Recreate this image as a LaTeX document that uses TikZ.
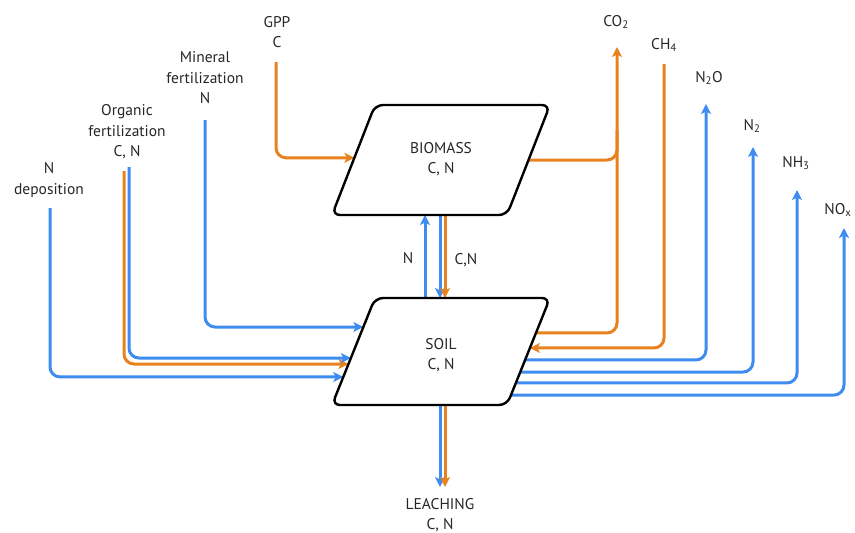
\documentclass[tikz,border=0pt]{standalone}
\usepackage{fontspec}
\setmainfont{PT Sans}
\usetikzlibrary{arrows.meta,calc}
\definecolor{org}{RGB}{232,130,30}
\definecolor{blu}{RGB}{62,140,240}
\begin{document}
\begin{tikzpicture}[x=1pt,y=-1pt,
  flow/.style={line width=3pt, rounded corners=10pt},
  oflow/.style={flow, draw=org},
  bflow/.style={flow, draw=blu},
  tip/.style={-{Stealth[length=10pt,width=10pt,inset=2.5pt]}},
  lbl/.style={font=\fontsize{15.5}{20.5}\selectfont, align=center, text=black!85, inner sep=0pt},
  pool/.style={line width=2.4pt, rounded corners=8pt, draw=black}]
\useasboundingbox (0,0) rectangle (855,533);

% pool corners
\coordinate (btl) at (375,105); \coordinate (btr) at (550,105);
\coordinate (bbr) at (507,215); \coordinate (bbl) at (332,215);
\coordinate (stl) at (375,298); \coordinate (str) at (550,298);
\coordinate (sbr) at (507,405); \coordinate (sbl) at (332,405);

% labels
\node[lbl] (gpp) at (277,32) {GPP\\C};
\node[lbl] (minf) at (205,78) {Mineral\\fertilization\\N};
\node[lbl] (orgf) at (127,132) {Organic\\fertilization\\C, N};
\node[lbl] (ndep) at (49,180) {N\\deposition};
\node[lbl] (co2) at (616,22) {CO\textsubscript{2}};
\node[lbl] (ch4) at (664,45) {CH\textsubscript{4}};
\node[lbl] (n2o) at (709,78) {N\textsubscript{2}O};
\node[lbl] (n2) at (752,126) {N\textsubscript{2}};
\node[lbl] (nh3) at (796,163) {NH\textsubscript{3}};
\node[lbl] (nox) at (838,210) {NO\textsubscript{x}};
\node[lbl] (biomass) at (441,159) {BIOMASS\\C, N};
\node[lbl] (soil) at (441,355) {SOIL\\C, N};
\node[lbl] (leach) at (440,515) {LEACHING\\C, N};
\node[lbl] (nlab) at (408,258) {N};
\node[lbl] (cnlab) at (466,260) {C,N};

% connector end points
\coordinate (gpps) at (276,62);
\coordinate (gppin) at ($(btl)!0.48!(bbl)$);
\coordinate (mins) at (205,120);
\coordinate (minin) at ($(stl)!0.271!(sbl)$);
\coordinate (orgbs) at (129,167);
\coordinate (orgbin) at ($(stl)!0.561!(sbl)$);
\coordinate (orgos) at (124,171);
\coordinate (orgoin) at ($(stl)!0.617!(sbl)$);
\coordinate (ndeps) at (50,208);
\coordinate (ndepin) at ($(stl)!0.738!(sbl)$);
\coordinate (sco2) at ($(str)!0.327!(sbr)$);
\coordinate (bco2) at ($(btr)!0.5!(bbr)$);
\coordinate (co2tip) at (617,47);
\coordinate (co2j) at (617,130);
\coordinate (ch4s) at (664,64);
\coordinate (ch4in) at ($(str)!0.467!(sbr)$);
\coordinate (n2oout) at ($(str)!0.579!(sbr)$);
\coordinate (n2otip) at (706,104);
\coordinate (n2out) at ($(str)!0.692!(sbr)$);
\coordinate (n2tip) at (753,147);
\coordinate (nh3out) at ($(str)!0.794!(sbr)$);
\coordinate (nh3tip) at (797,190);
\coordinate (noxout) at ($(str)!0.907!(sbr)$);
\coordinate (noxtip) at (844,228);
\coordinate (upS) at (425,298); \coordinate (upB) at (425,215);
\coordinate (dnbB) at (440,215); \coordinate (dnbS) at (440,298);
\coordinate (dnoB) at (445,215); \coordinate (dnoS) at (445,298);
\coordinate (lbS) at (440,405); \coordinate (lbE) at (440,487);
\coordinate (loS) at (445,405); \coordinate (loE) at (445,487);

% inputs
\draw[oflow,tip] (gpps) |- (gppin);
\draw[bflow,tip] (mins) |- (minin);
\draw[oflow,tip] (orgos) |- (orgoin);
\draw[bflow,tip] (orgbs) |- (orgbin);
\draw[bflow,tip] (ndeps) |- (ndepin);

% outputs
\draw[oflow,tip] (sco2) -| (co2tip);
\draw[oflow] (bco2) -| (co2j);
\draw[oflow,tip] (ch4s) |- (ch4in);
\draw[bflow,tip] (n2oout) -| (n2otip);
\draw[bflow,tip] (n2out) -| (n2tip);
\draw[bflow,tip] (nh3out) -| (nh3tip);
\draw[bflow,tip] (noxout) -| (noxtip);

% exchanges
\draw[bflow,tip] (upS) -- (upB);
\draw[bflow,tip] (dnbB) -- (dnbS);
\draw[oflow,tip] (dnoB) -- (dnoS);
\draw[bflow,tip] (lbS) -- (lbE);
\draw[oflow,tip] (loS) -- (loE);

% pools
\draw[pool] (btl) -- (btr) -- (bbr) -- (bbl) -- cycle;
\draw[pool] (stl) -- (str) -- (sbr) -- (sbl) -- cycle;
\end{tikzpicture}
\end{document}
